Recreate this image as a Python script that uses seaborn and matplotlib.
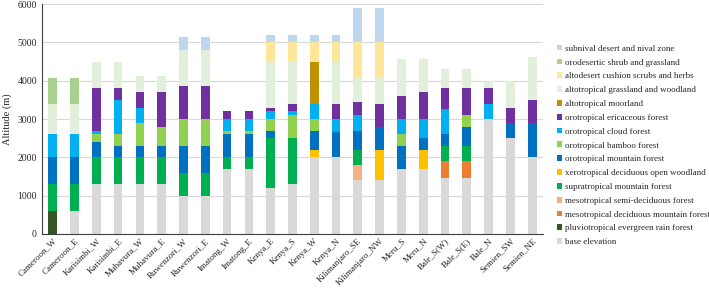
import matplotlib
matplotlib.use("Agg")
import matplotlib.pyplot as plt
import seaborn as sns
import numpy as np

sites = ["Cameroon_W", "Cameroon_E", "Karisimbi_W", "Karisimbi_E", "Muhavura_W", "Muhavura_E",
         "Ruwenzori_W", "Ruwenzori_E", "Imatong_W", "Imatong_E", "Kenya_E", "Kenya_S", "Kenya_W",
         "Kenya_N", "Kilimanjaro_SE", "Kilimanjaro_NW", "Meru_S", "Meru_N", "Bale_S(W)", "Bale_S(E)",
         "Bale_N", "Semien_SW", "Semien_NE"]

# thickness of each belt (m), bottom to top of the stack
base_elevation = [0, 600, 1300, 1300, 1300, 1300, 1000, 1000, 1700, 1700, 1200, 1300, 2000,
                  2000, 1400, 1400, 1700, 1700, 1450, 1450, 3000, 2500, 2000]
pluviotropical = [600, 0, 0, 0, 0, 0, 0, 0, 0, 0, 0, 0, 0, 0, 0, 0, 0, 0, 0, 0, 0, 0, 0]
meso_deciduous = [0, 0, 0, 0, 0, 0, 0, 0, 0, 0, 0, 0, 0, 0, 0, 0, 0, 0, 450, 450, 0, 0, 0]
meso_semi = [0, 0, 0, 0, 0, 0, 0, 0, 0, 0, 0, 0, 0, 0, 400, 0, 0, 0, 0, 0, 0, 0, 0]
supratropical = [700, 700, 700, 700, 700, 700, 600, 600, 300, 300, 1300, 1200, 0,
                 0, 400, 0, 0, 0, 400, 400, 0, 0, 0]
xerotropical = [0, 0, 0, 0, 0, 0, 0, 0, 0, 0, 0, 0, 200, 0, 0, 800, 0, 500, 0, 0, 0, 0, 0]
mountain = [700, 700, 400, 300, 300, 300, 700, 700, 600, 600, 200, 0, 500,
            650, 500, 600, 600, 300, 300, 500, 0, 400, 900]
bamboo = [0, 0, 200, 300, 600, 500, 700, 700, 100, 100, 300, 600, 300,
          0, 0, 0, 300, 0, 0, 300, 0, 0, 0]
cloud = [600, 600, 100, 900, 400, 0, 0, 0, 300, 300, 200, 100, 400,
         350, 400, 0, 400, 500, 650, 0, 400, 0, 0]
ericaceous = [0, 0, 1100, 300, 400, 900, 850, 850, 200, 200, 100, 200, 0,
              400, 350, 600, 600, 700, 550, 700, 400, 400, 600]
moorland = [0, 0, 0, 0, 0, 0, 0, 0, 0, 0, 0, 0, 1100, 0, 0, 0, 0, 0, 0, 0, 0, 0, 0]
alto_grassland = [800, 800, 700, 700, 430, 430, 950, 950, 0, 0, 1200, 1100, 0,
                  1100, 650, 700, 965, 865, 500, 500, 200, 700, 1120]
altodesert = [0, 0, 0, 0, 0, 0, 0, 0, 0, 0, 500, 500, 500, 500, 900, 900, 0, 0, 0, 0, 0, 0, 0]
orodesertic = [670, 670, 0, 0, 0, 0, 0, 0, 0, 0, 0, 0, 0, 0, 0, 0, 0, 0, 0, 0, 0, 0, 0]
subnival = [0, 0, 0, 0, 0, 0, 330, 330, 0, 0, 200, 200, 200, 200, 900, 900, 0, 0, 0, 0, 0, 0, 0]

layers = [
    ("base elevation", base_elevation, "#d9d9d9"),
    ("pluviotropical evergreen rain forest", pluviotropical, "#375623"),
    ("mesotropical deciduous mountain forest", meso_deciduous, "#ed7d31"),
    ("mesotropical semi-deciduous forest", meso_semi, "#f4b183"),
    ("supratropical mountain forest", supratropical, "#00b050"),
    ("xerotropical deciduous open woodland", xerotropical, "#ffc000"),
    ("orotropical mountain forest", mountain, "#0070c0"),
    ("orotropical bamboo forest", bamboo, "#92d050"),
    ("orotropical cloud forest", cloud, "#00b0f0"),
    ("orotropical ericaceous forest", ericaceous, "#7030a0"),
    ("altotropical moorland", moorland, "#bf9000"),
    ("altotropical grassland and woodland", alto_grassland, "#e2efda"),
    ("altodesert cushion scrubs and herbs", altodesert, "#ffe699"),
    ("orodesertic shrub and grassland", orodesertic, "#a9d18e"),
    ("subnival desert and nival zone", subnival, "#bdd7ee"),
]

sns.set_style("white")
plt.rcParams["font.family"] = ["Liberation Serif", "DejaVu Serif"]

fig = plt.figure(figsize=(7.09, 2.91), dpi=100)
ax = fig.add_axes([0.059, 0.196, 0.707, 0.79])

bottom = np.zeros(len(sites))
for name, vals, col in layers:
    sns.barplot(x=sites, y=vals, bottom=bottom, color=col, width=0.4, saturation=1,
                errorbar=None, label=name, ax=ax, linewidth=0)
    bottom = bottom + np.array(vals)

ax.set_ylim(0, 6000)
ax.set_xlim(-0.5, len(sites) - 0.5)
ax.set_yticks(range(0, 6001, 1000))
ax.yaxis.grid(True, color="#d9d9d9", linewidth=0.8)
ax.set_axisbelow(True)
for s in ["top", "right"]:
    ax.spines[s].set_visible(False)
ax.spines["left"].set_color("#404040")
ax.spines["bottom"].set_color("#404040")
ax.set_ylabel("Altitude (m)", fontsize=7.5, color="#262626")
ax.set_xlabel("")
ax.tick_params(axis="y", length=0, labelsize=7, labelcolor="#262626")
ax.tick_params(axis="x", length=0, labelsize=6.5, labelcolor="#262626", pad=2)
ax.set_xticks(np.arange(-0.5, len(sites), 1), minor=True)
ax.tick_params(axis="x", which="minor", length=3, color="#404040", direction="out")
plt.setp(ax.get_xticklabels(), rotation=45, ha="right", rotation_mode="anchor")

handles, labels = ax.get_legend_handles_labels()
ax.legend(handles[::-1], labels[::-1], loc="center left", bbox_to_anchor=(553 / 709, 0.5),
          bbox_transform=fig.transFigure, frameon=False, fontsize=6.5,
          handlelength=0.6, handleheight=0.6, handletextpad=0.3, labelspacing=0.64,
          borderaxespad=0, labelcolor="#262626")

fig.savefig("out.png", dpi=100)
